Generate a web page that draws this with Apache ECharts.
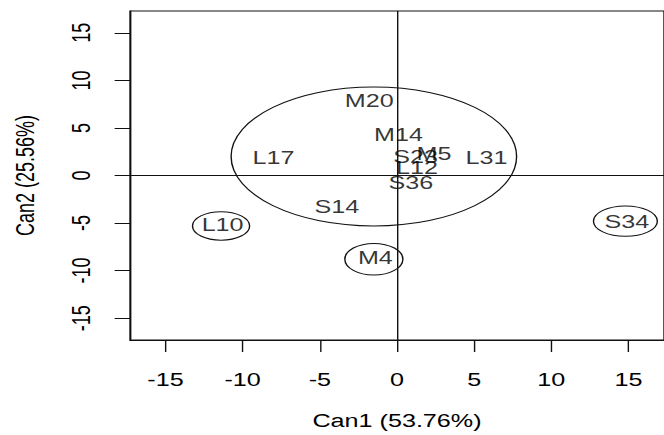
<!DOCTYPE html>
<html>
<head>
<meta charset="utf-8">
<title>Can1 / Can2</title>
<script src="https://cdn.jsdelivr.net/npm/echarts@6/dist/echarts.min.js"></script>
<style>
html,body{margin:0;padding:0;background:#fff;overflow:hidden;}
/* the source plot is stretched sideways, so draw narrow and widen it */
#main{width:475px;height:435px;transform:scaleX(1.3979);transform-origin:0 0;}
</style>
</head>
<body>
<div id="main"></div>
<script type="text/javascript">
// point labels and canonical scores
var names = ['M20', 'M14', 'L17', 'S23', 'M5', 'L31', 'L12', 'S36', 'S14', 'L10', 'M4', 'S34'];
var can1 = [-1.8, 0.1, -8.0, 1.2, 2.4, 5.8, 1.3, 0.9, -3.9, -11.3, -1.4, 14.9];
var can2 = [7.9, 4.3, 1.9, 2.0, 2.3, 1.9, 0.8, -0.8, -3.3, -5.2, -8.7, -4.9];

// ellipses: centre and radii in data units
var ellX = [-1.5, -11.4, -1.5, 14.8];
var ellY = [2.0, -5.3, -8.8, -4.8];
var ellRx = [9.25, 1.85, 1.88, 2.07];
var ellRy = [7.3, 1.5, 1.66, 1.6];

var ticks = [-15, -10, -5, 0, 5, 10, 15];

var pts = [];
for (var i = 0; i < names.length; i++) {
	pts.push({name: names[i], value: [can1[i], can2[i]]});
}
var ells = [];
for (var j = 0; j < ellX.length; j++) {
	ells.push([ellX[j], ellY[j], ellRx[j], ellRy[j]]);
}

var font = "'Liberation Sans', Arial, sans-serif";
var ink = '#111';

var myChart = echarts.init(document.getElementById('main'), null, {renderer: 'svg'});

var option = {
	animation: false,
	textStyle: {fontFamily: font},
	grid: {left: 93, width: 383.6, top: 11, height: 330, show: true, borderColor: ink, borderWidth: 1, backgroundColor: 'transparent'},
	xAxis: {
		type: 'value', min: -17.3, max: 17.3,
		name: 'Can1 (53.76%)', nameLocation: 'middle', nameGap: 72,
		nameTextStyle: {fontSize: 18, color: '#000', fontFamily: font},
		axisLine: {onZero: false, lineStyle: {color: ink, width: 1}},
		axisTick: {length: 12, lineStyle: {color: ink}, customValues: ticks},
		axisLabel: {fontSize: 18, color: '#000', margin: 31, fontFamily: font, customValues: ticks},
		splitLine: {show: false}
	},
	yAxis: {
		type: 'value', min: -17.3, max: 17.3,
		name: 'Can2 (25.56%)', nameLocation: 'middle', nameGap: 66, nameRotate: 90,
		nameTextStyle: {fontSize: 18, color: '#000', fontFamily: font},
		axisLine: {onZero: false, lineStyle: {color: ink, width: 1}},
		axisTick: {length: 11, lineStyle: {color: ink}, customValues: ticks},
		axisLabel: {fontSize: 18, color: '#000', margin: 26, rotate: 90, fontFamily: font, customValues: ticks},
		splitLine: {show: false}
	},
	series: [
		{
			type: 'custom',
			silent: true,
			data: ells,
			renderItem: function (params, api) {
				var c = api.coord([api.value(0), api.value(1)]);
				var s = api.size([api.value(2), api.value(3)]);
				return {
					type: 'ellipse',
					shape: {cx: c[0], cy: c[1], rx: s[0], ry: s[1]},
					style: {fill: 'none', stroke: ink, lineWidth: 1}
				};
			},
			z: 2
		},
		{
			type: 'scatter',
			symbolSize: 0,
			data: pts,
			label: {
				show: true, position: 'inside', formatter: '{b}',
				fontSize: 18, color: '#000', fontFamily: font
			},
			markLine: {
				silent: true, symbol: 'none', label: {show: false},
				lineStyle: {color: ink, type: 'solid', width: 1},
				data: [{xAxis: 0}, {yAxis: 0}]
			},
			z: 3
		}
	]
};
myChart.setOption(option);
</script>
</body>
</html>
